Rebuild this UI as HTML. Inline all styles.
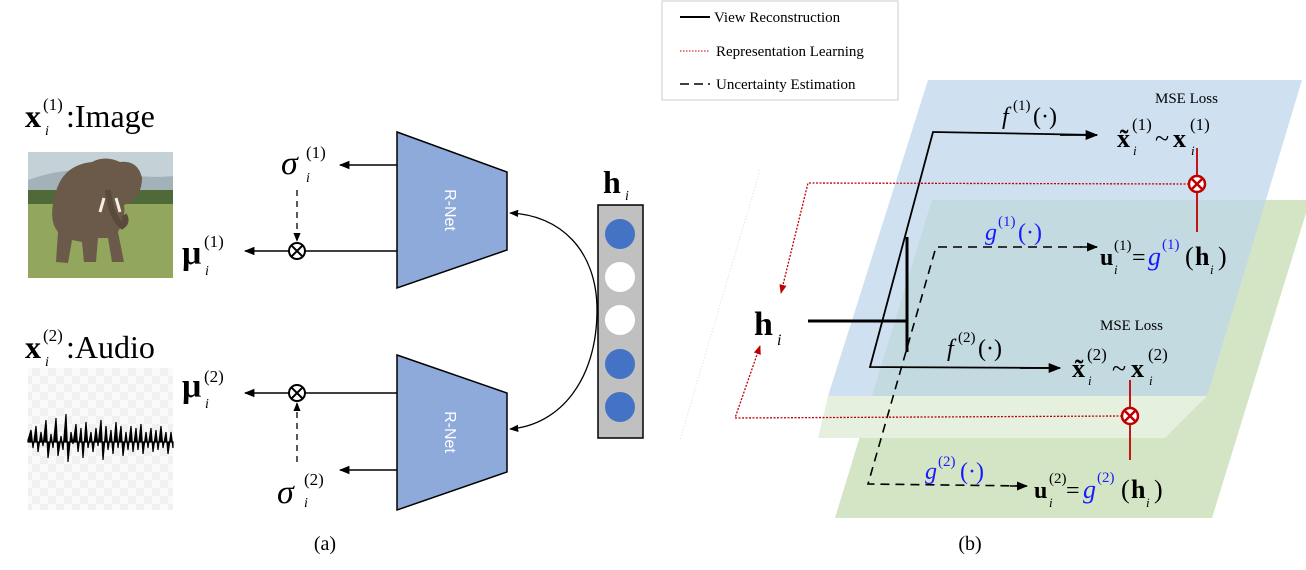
<!DOCTYPE html>
<html><head><meta charset="utf-8"><style>
body{margin:0;background:#fff;}
svg{display:block;font-family:"Liberation Serif",serif;}
</style></head><body>
<svg width="1306" height="570" viewBox="0 0 1306 570" xmlns="http://www.w3.org/2000/svg">
<defs>
<marker id="ah" viewBox="0 0 10 10" refX="9" refY="5" markerWidth="7" markerHeight="7" orient="auto"><path d="M0,1 L10,5 L0,9 z" fill="#000"/></marker>
<marker id="ar" viewBox="0 0 10 10" refX="9" refY="5" markerWidth="7" markerHeight="7" orient="auto"><path d="M0,1 L10,5 L0,9 z" fill="#c00000"/></marker>
<pattern id="chk" width="16" height="16" patternUnits="userSpaceOnUse"><rect width="16" height="16" fill="#fafafa"/><rect width="8" height="8" fill="#f0f0f0"/><rect x="8" y="8" width="8" height="8" fill="#f0f0f0"/></pattern>
</defs>

<!-- LEFT (a) -->
<text x="25" y="127" font-size="32" font-weight="bold">x</text>
<text x="43" y="110" font-size="17">(1)</text>
<text x="45" y="135" font-size="14" font-style="italic">i</text>
<text x="66" y="127" font-size="32">:Image</text>

<!-- elephant image -->
<rect x="28" y="152" width="145" height="126" fill="#8fa35a"/>
<rect x="28" y="152" width="145" height="45" fill="#c4d2d8"/>
<path d="M28,180 Q70,165 110,172 T173,176 L173,197 L28,197z" fill="#a3b2b8"/>
<rect x="28" y="190" width="145" height="14" fill="#4f6a38"/>
<rect x="28" y="204" width="145" height="74" fill="#93a65e"/>
<path d="M92,162 Q62,165 55,195 Q48,220 58,232 L56,262 L68,263 L72,240 L82,242 L84,262 L96,262 L98,238 L108,238 L112,262 L124,262 L118,232 Q126,218 124,205 Q142,198 142,178 Q138,160 120,162 Q105,155 92,162 Z" fill="#6b5a4a"/>
<path d="M108,190 Q110,215 122,226 Q128,222 124,215" stroke="#5a4a3c" stroke-width="6" fill="none"/>
<path d="M104,198 L100,212" stroke="#f4f0e0" stroke-width="3"/>
<path d="M116,198 L120,212" stroke="#f4f0e0" stroke-width="3"/>

<text x="25" y="358" font-size="32" font-weight="bold">x</text>
<text x="43" y="341" font-size="17">(2)</text>
<text x="45" y="366" font-size="14" font-style="italic">i</text>
<text x="66" y="358" font-size="32">:Audio</text>
<rect x="28" y="368" width="145" height="142" fill="url(#chk)"/>
<path d="M28,440 L31,430 L33,448 L36,426 L38,452 L41,432 L43,446 L46,420 L48,458 L51,434 L53,448 L56,418 L58,456 L61,436 L63,450 L66,414 L68,462 L71,432 L73,444 L76,424 L78,452 L81,428 L83,458 L86,422 L88,448 L91,432 L93,452 L96,428 L98,446 L101,420 L103,460 L106,426 L108,450 L111,430 L113,454 L116,422 L118,448 L121,426 L123,456 L126,432 L128,450 L131,426 L133,452 L136,428 L138,450 L141,424 L143,454 L146,432 L148,448 L151,428 L153,452 L156,430 L158,450 L161,426 L163,448 L166,432 L168,454 L171,432 L173,448 L173,442 L28,442 Z" fill="#000" stroke="#000" stroke-width="1.2"/>

<!-- R-Net -->
<polygon points="397,132 507,172 507,250 397,288" fill="#8eaadb" stroke="#000" stroke-width="1.5"/>
<text transform="translate(445,210) rotate(90)" font-family="Liberation Sans,sans-serif" font-size="16" fill="#fff" text-anchor="middle">R-Net</text>
<polygon points="397,355 507,393 507,472 397,510" fill="#8eaadb" stroke="#000" stroke-width="1.5"/>
<text transform="translate(445,432) rotate(90)" font-family="Liberation Sans,sans-serif" font-size="16" fill="#fff" text-anchor="middle">R-Net</text>

<!-- sigma/mu 1 -->
<line x1="397" y1="165" x2="340" y2="165" stroke="#000" stroke-width="1.5" marker-end="url(#ah)"/>
<text x="281" y="174" font-size="34" font-style="italic">σ</text>
<text x="306" y="158" font-size="17">(1)</text>
<text x="306" y="182" font-size="14" font-style="italic">i</text>
<line x1="297" y1="190" x2="297" y2="241" stroke="#000" stroke-width="1.3" stroke-dasharray="6,5" marker-end="url(#ah)"/>
<line x1="397" y1="251" x2="305" y2="251" stroke="#000" stroke-width="1.5"/>
<circle cx="297" cy="251" r="8" fill="#fff" stroke="#000" stroke-width="2"/>
<path d="M291,245 L303,257 M303,245 L291,257" stroke="#000" stroke-width="2"/>
<line x1="289" y1="251" x2="245" y2="251" stroke="#000" stroke-width="1.5" marker-end="url(#ah)"/>
<text x="182" y="264" font-size="34" font-weight="bold">μ</text>
<text x="204" y="247" font-size="17">(1)</text>
<text x="205" y="275" font-size="14" font-style="italic">i</text>

<!-- sigma/mu 2 -->
<line x1="397" y1="393" x2="305" y2="393" stroke="#000" stroke-width="1.5"/>
<circle cx="297" cy="393" r="8" fill="#fff" stroke="#000" stroke-width="2"/>
<path d="M291,387 L303,399 M303,387 L291,399" stroke="#000" stroke-width="2"/>
<line x1="289" y1="393" x2="245" y2="393" stroke="#000" stroke-width="1.5" marker-end="url(#ah)"/>
<text x="182" y="397" font-size="34" font-weight="bold">μ</text>
<text x="204" y="382" font-size="17">(2)</text>
<text x="205" y="408" font-size="14" font-style="italic">i</text>
<line x1="297" y1="462" x2="297" y2="403" stroke="#000" stroke-width="1.3" stroke-dasharray="6,5" marker-end="url(#ah)"/>
<line x1="397" y1="470" x2="340" y2="470" stroke="#000" stroke-width="1.5" marker-end="url(#ah)"/>
<text x="277" y="503" font-size="34" font-style="italic">σ</text>
<text x="304" y="485" font-size="17">(2)</text>
<text x="304" y="507" font-size="14" font-style="italic">i</text>

<!-- h vector -->
<text x="603" y="193" font-size="32" font-weight="bold">h</text>
<text x="625" y="200" font-size="14" font-style="italic">i</text>
<rect x="598" y="205" width="45" height="233" fill="#c0c0c0" stroke="#000" stroke-width="1.5"/>
<circle cx="620" cy="234" r="15" fill="#4472c4"/>
<circle cx="620" cy="277" r="15" fill="#fff"/>
<circle cx="620" cy="320" r="15" fill="#fff"/>
<circle cx="620" cy="364" r="15" fill="#4472c4"/>
<circle cx="620" cy="407" r="15" fill="#4472c4"/>
<path d="M597,310 C597,250 560,215 510,213" stroke="#000" stroke-width="1.3" fill="none" marker-end="url(#ah)"/>
<path d="M597,310 C597,380 560,425 510,429" stroke="#000" stroke-width="1.3" fill="none" marker-end="url(#ah)"/>
<text x="325" y="550" font-size="20" text-anchor="middle">(a)</text>

<!-- RIGHT (b) -->
<line x1="760" y1="170" x2="680" y2="440" stroke="#ddd" stroke-width="1" stroke-dasharray="1,2"/>
<polygon points="932,200 1310,200 1212,518 835,518" fill="#d4e5c6"/>
<polygon points="928,80 1302,80 1207,396 828,396" fill="#cfe0f1"/>
<polygon points="932,200 1266,200 1207,396 872,396" fill="#c2dae0"/>
<polygon points="828,396 1207,396 1165,438 818,438" fill="#e6f0df"/>

<!-- legend -->
<rect x="662" y="1" width="236" height="99" fill="#fff" stroke="#ccc" stroke-width="1"/>
<line x1="680" y1="17" x2="710" y2="17" stroke="#000" stroke-width="2"/>
<text x="714" y="22" font-size="15">View Reconstruction</text>
<line x1="680" y1="51" x2="710" y2="51" stroke="#c00000" stroke-width="1" stroke-dasharray="1.5,1.5"/>
<text x="716" y="56" font-size="15">Representation Learning</text>
<line x1="680" y1="84" x2="710" y2="84" stroke="#000" stroke-width="1.5" stroke-dasharray="9,5"/>
<text x="716" y="89" font-size="15">Uncertainty Estimation</text>

<!-- solid paths -->
<line x1="808" y1="321" x2="907" y2="321" stroke="#000" stroke-width="3"/>
<line x1="907" y1="237" x2="907" y2="352" stroke="#000" stroke-width="3"/>
<polyline points="1097,135 933,132 870,367 1058,368" stroke="#000" stroke-width="1.8" fill="none"/>
<line x1="1060" y1="135" x2="1097" y2="135" stroke="#000" stroke-width="1.8" marker-end="url(#ah)"/>
<line x1="1020" y1="368" x2="1060" y2="368" stroke="#000" stroke-width="1.8" marker-end="url(#ah)"/>
<!-- dashed -->
<polyline points="1097,247 936,247 868,484 1025,486" stroke="#000" stroke-width="1.6" fill="none" stroke-dasharray="9,6"/>
<line x1="1080" y1="247" x2="1097" y2="247" stroke="#000" stroke-width="1.6" marker-end="url(#ah)"/>
<line x1="1010" y1="486" x2="1027" y2="486" stroke="#000" stroke-width="1.6" marker-end="url(#ah)"/>

<!-- red -->
<line x1="1197" y1="148" x2="1197" y2="232" stroke="#c00000" stroke-width="1.8"/>
<polyline points="1189,184 808,183 781,293" stroke="#c00000" stroke-width="1.3" fill="none" stroke-dasharray="2,1.5" marker-end="url(#ar)"/>
<circle cx="1197" cy="184" r="8" fill="#fff" stroke="#c00000" stroke-width="2.5"/>
<path d="M1192,179 L1202,189 M1202,179 L1192,189" stroke="#c00000" stroke-width="2.5"/>
<line x1="1130" y1="380" x2="1130" y2="460" stroke="#c00000" stroke-width="1.8"/>
<polyline points="1122,416 735,418 760,346" stroke="#c00000" stroke-width="1.3" fill="none" stroke-dasharray="2,1.5" marker-end="url(#ar)"/>
<circle cx="1130" cy="416" r="8" fill="#fff" stroke="#c00000" stroke-width="2.5"/>
<path d="M1125,411 L1135,421 M1135,411 L1125,421" stroke="#c00000" stroke-width="2.5"/>

<!-- labels -->
<text x="754" y="335" font-size="34" font-weight="bold">h</text>
<text x="777" y="345" font-size="16" font-style="italic">i</text>
<text x="1002" y="124" font-size="24" font-style="italic">f</text>
<text x="1013" y="110" font-size="15">(1)</text>
<text x="1033" y="124" font-size="24">(·)</text>
<text x="1155" y="103" font-size="15">MSE Loss</text>
<text x="1117" y="147" font-size="26" font-weight="bold">x̃</text>
<text x="1132" y="130" font-size="17">(1)</text>
<text x="1133" y="155" font-size="13" font-style="italic">i</text>
<text x="1155" y="147" font-size="26">~</text>
<text x="1173" y="147" font-size="26" font-weight="bold">x</text>
<text x="1190" y="130" font-size="17">(1)</text>
<text x="1191" y="155" font-size="13" font-style="italic">i</text>

<text x="985" y="240" font-size="24" font-style="italic" fill="#1a1aff">g</text>
<text x="998" y="226" font-size="15" fill="#1a1aff">(1)</text>
<text x="1018" y="240" font-size="24" fill="#1a1aff">(·)</text>
<text x="1100" y="265" font-size="24" font-weight="bold">u</text>
<text x="1114" y="250" font-size="15">(1)</text>
<text x="1114" y="274" font-size="13" font-style="italic">i</text>
<text x="1132" y="265" font-size="24">=</text>
<text x="1148" y="265" font-size="26" font-style="italic" fill="#1a1aff">g</text>
<text x="1162" y="249" font-size="15" fill="#1a1aff">(1)</text>
<text x="1185" y="265" font-size="26">(</text>
<text x="1195" y="265" font-size="26" font-weight="bold">h</text>
<text x="1210" y="274" font-size="13" font-style="italic">i</text>
<text x="1218" y="265" font-size="26">)</text>

<text x="1100" y="330" font-size="15">MSE Loss</text>
<text x="947" y="356" font-size="24" font-style="italic">f</text>
<text x="958" y="342" font-size="15">(2)</text>
<text x="978" y="356" font-size="24">(·)</text>
<text x="1072" y="377" font-size="26" font-weight="bold">x̃</text>
<text x="1087" y="360" font-size="17">(2)</text>
<text x="1088" y="385" font-size="13" font-style="italic">i</text>
<text x="1112" y="377" font-size="26">~</text>
<text x="1131" y="377" font-size="26" font-weight="bold">x</text>
<text x="1148" y="360" font-size="17">(2)</text>
<text x="1149" y="385" font-size="13" font-style="italic">i</text>

<text x="925" y="479" font-size="24" font-style="italic" fill="#1a1aff">g</text>
<text x="938" y="466" font-size="15" fill="#1a1aff">(2)</text>
<text x="960" y="479" font-size="24" fill="#1a1aff">(·)</text>
<text x="1034" y="498" font-size="24" font-weight="bold">u</text>
<text x="1049" y="483" font-size="15">(2)</text>
<text x="1049" y="507" font-size="13" font-style="italic">i</text>
<text x="1066" y="498" font-size="24">=</text>
<text x="1083" y="498" font-size="26" font-style="italic" fill="#1a1aff">g</text>
<text x="1097" y="482" font-size="15" fill="#1a1aff">(2)</text>
<text x="1121" y="498" font-size="26">(</text>
<text x="1131" y="498" font-size="26" font-weight="bold">h</text>
<text x="1146" y="507" font-size="13" font-style="italic">i</text>
<text x="1154" y="498" font-size="26">)</text>

<text x="970" y="550" font-size="20" text-anchor="middle">(b)</text>
</svg>
</body></html>
